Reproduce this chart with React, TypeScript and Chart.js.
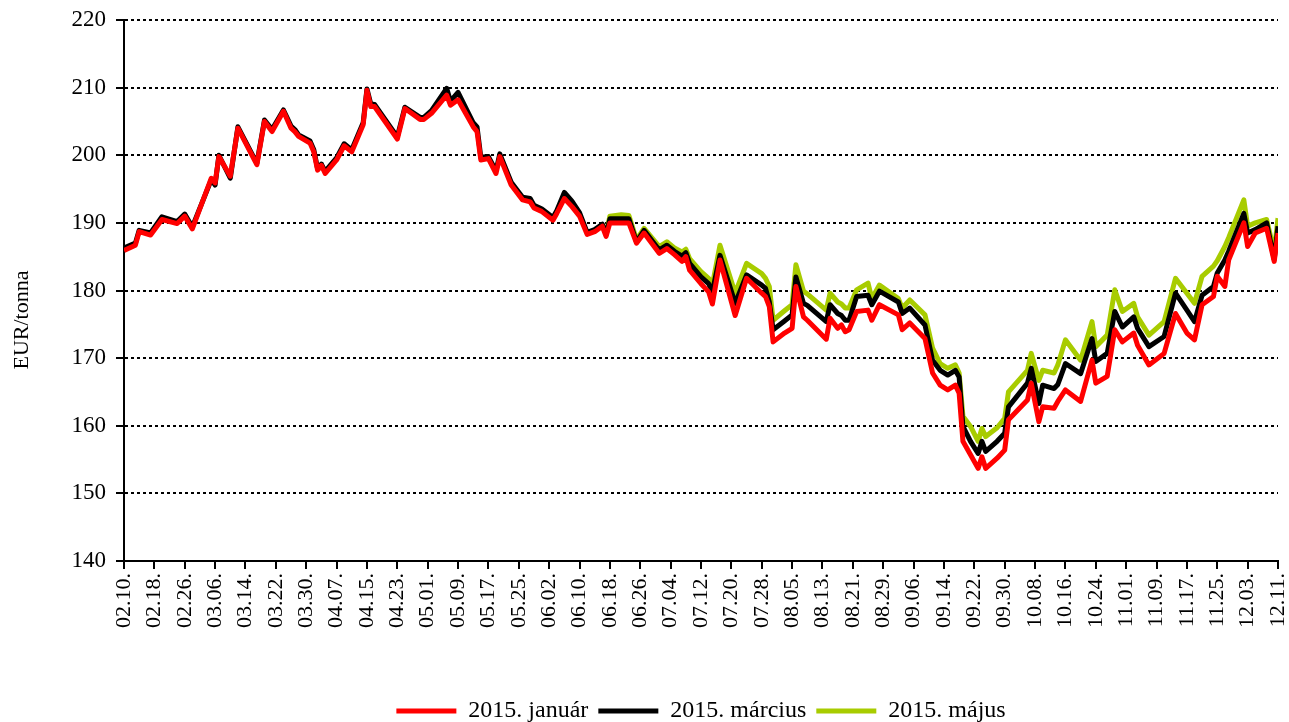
import React, { useEffect, useRef } from 'react';
import { Chart, registerables } from 'chart.js';

Chart.register(...registerables);

// Trading dates (MM.DD) of sampled points, year 2014
const dates = [
  '02.10', '02.13', '02.14', '02.17', '02.20', '02.24', '02.26', '02.28',
  '03.05', '03.06', '03.07', '03.10', '03.12', '03.17', '03.19', '03.21', '03.24', '03.26', '03.27', '03.28', '03.31',
  '04.01', '04.02', '04.03', '04.04', '04.07', '04.09', '04.11', '04.14', '04.15', '04.16', '04.17', '04.23', '04.25', '04.29', '04.30',
  '05.02', '05.06', '05.07', '05.09', '05.13', '05.14', '05.15', '05.17', '05.19', '05.20', '05.23', '05.26', '05.28', '05.29', '05.31',
  '06.03', '06.04', '06.06', '06.08', '06.10', '06.12', '06.14', '06.16', '06.17', '06.18', '06.21', '06.23', '06.25', '06.27',
  '07.01', '07.03', '07.05', '07.07', '07.08', '07.09', '07.12', '07.14', '07.15', '07.17', '07.21', '07.24', '07.28', '07.29', '07.30', '07.31',
  '08.03', '08.05', '08.06', '08.08', '08.09', '08.14', '08.15', '08.17', '08.18', '08.19', '08.20', '08.22', '08.25', '08.26', '08.28',
  '09.02', '09.03', '09.05', '09.09', '09.11', '09.13', '09.15', '09.17', '09.18', '09.19', '09.21', '09.23', '09.24', '09.25', '09.28', '09.30',
  '10.01', '10.06', '10.07', '10.09', '10.10', '10.13', '10.14', '10.16', '10.20', '10.23', '10.24', '10.27', '10.29', '10.31',
  '11.03', '11.04', '11.07', '11.11', '11.14', '11.17', '11.19', '11.21', '11.24', '11.25', '11.27', '11.28',
  '12.02', '12.03', '12.05', '12.08', '12.10', '12.11',
];

const januar = [
  185.9, 186.7, 188.7, 188.2, 190.5, 189.9, 191.0, 189.1,
  196.6, 195.9, 199.8, 196.9, 204.0, 198.6, 205.0, 203.5, 206.5, 204.0, 203.5, 202.8, 201.8,
  200.5, 197.8, 198.5, 197.3, 199.3, 201.4, 200.5, 204.5, 209.6, 207.2, 207.2, 202.4, 206.9, 205.3, 205.3,
  206.2, 208.9, 207.4, 208.2, 204.2, 203.5, 199.3, 199.5, 197.3, 199.8, 195.6, 193.4, 193.1, 192.2, 191.7,
  190.4, 191.4, 193.6, 192.4, 191.0, 188.3, 188.7, 189.5, 188.0, 190.0, 190.0, 190.0, 187.0, 188.5,
  185.5, 186.2, 185.3, 184.3, 185.0, 183.0, 181.0, 179.8, 178.0, 184.5, 176.3, 181.8, 179.6, 179.1, 177.6, 172.4,
  173.7, 174.4, 180.6, 176.1, 175.6, 172.8, 175.9, 174.4, 174.9, 173.9, 174.2, 176.9, 177.1, 175.6, 177.9,
  176.4, 174.2, 175.2, 172.9, 167.8, 166.0, 165.3, 166.0, 164.8, 157.7, 155.7, 153.7, 155.4, 153.7, 155.2, 156.4,
  160.9, 163.8, 166.3, 160.6, 162.8, 162.6, 163.6, 165.3, 163.6, 169.7, 166.3, 167.3, 174.2, 172.4,
  173.7, 171.9, 169.0, 170.7, 176.6, 173.7, 172.7, 177.9, 179.1, 182.1, 180.6, 184.5,
  190.0, 186.5, 188.5, 189.2, 184.3, 188.5,
];

const marcius = [
  186.3, 187.0, 188.9, 188.5, 190.9, 190.2, 191.3, 189.4,
  196.4, 195.6, 200.0, 196.6, 204.2, 198.8, 205.2, 203.8, 206.7, 204.3, 203.8, 203.0, 202.1,
  200.8, 198.0, 198.7, 197.6, 199.6, 201.7, 200.8, 204.8, 209.8, 207.6, 207.5, 202.7, 207.1, 205.6, 205.6,
  206.6, 209.9, 208.0, 209.3, 204.8, 204.2, 199.7, 199.8, 197.7, 200.2, 196.0, 193.8, 193.6, 192.6, 192.1,
  190.8, 191.8, 194.5, 193.2, 191.5, 188.6, 189.0, 189.8, 188.3, 190.6, 190.6, 190.6, 187.2, 188.9,
  186.0, 186.7, 185.8, 185.1, 185.6, 184.0, 182.0, 181.0, 179.8, 185.2, 178.1, 182.3, 180.8, 180.3, 178.3, 174.2,
  175.5, 176.4, 182.0, 178.1, 177.8, 175.4, 177.9, 176.6, 176.3, 175.6, 175.6, 179.1, 179.3, 177.9, 179.9,
  178.3, 176.6, 177.4, 174.9, 169.7, 168.2, 167.5, 168.2, 167.2, 159.9, 157.7, 155.9, 157.7, 156.2, 157.7, 158.9,
  162.8, 166.3, 168.5, 163.3, 166.0, 165.5, 166.1, 169.2, 167.7, 172.9, 169.5, 170.7, 176.9, 174.6,
  176.1, 174.4, 171.7, 173.2, 179.6, 177.1, 175.4, 179.3, 180.6, 182.6, 184.5, 185.8,
  191.4, 188.5, 189.0, 190.0, 184.6, 189.5,
];

const majus = [
  null, null, null, null, null, null, null, null,
  null, null, null, null, null, null, null, null, null, null, null, null, null,
  null, null, null, null, null, null, null, null, null, null, null, null, null, null, null,
  null, null, null, null, null, null, null, null, null, null, null, null, null, null, null,
  null, null, null, null, null, null, null, null, 188.4, 191.0, 191.2, 191.1, 187.5, 189.2,
  186.5, 187.2, 186.3, 185.7, 186.1, 184.7, 182.8, 181.8, 180.8, 186.7, 179.6, 184.0, 182.5, 181.8, 180.6, 175.6,
  177.0, 177.9, 183.8, 179.9, 179.5, 177.1, 179.6, 178.3, 178.0, 177.4, 177.4, 180.1, 181.1, 178.8, 180.8,
  178.8, 177.4, 178.6, 176.4, 171.5, 169.2, 168.5, 169.0, 167.8, 161.4, 159.9, 157.7, 159.6, 158.4, 159.7, 161.1,
  165.0, 168.2, 170.7, 166.7, 168.2, 167.8, 169.0, 172.7, 169.7, 175.4, 171.7, 173.4, 180.1, 176.9,
  178.1, 176.1, 173.4, 175.4, 181.8, 179.6, 178.1, 182.1, 183.6, 184.4, 186.5, 187.8,
  193.4, 189.5, 190.0, 190.5, 185.7, 190.7,
];

const tickLabels = [
  '02.10.', '02.18.', '02.26.', '03.06.', '03.14.', '03.22.', '03.30.', '04.07.', '04.15.', '04.23.',
  '05.01.', '05.09.', '05.17.', '05.25.', '06.02.', '06.10.', '06.18.', '06.26.', '07.04.', '07.12.',
  '07.20.', '07.28.', '08.05.', '08.13.', '08.21.', '08.29.', '09.06.', '09.14.', '09.22.', '09.30.',
  '10.08.', '10.16.', '10.24.', '11.01.', '11.09.', '11.17.', '11.25.', '12.03.', '12.11.',
];

const seriesNames = ['2015. január', '2015. március', '2015. május'];
const seriesColors = ['#ff0000', '#000000', '#a8cc00'];
const yAxisTitle = 'EUR/tonna';

const YEAR = 2014;
const START = '02.10';
const TICK_STEP_DAYS = 8;

function dayIndex(s: string): number {
  const [m, d] = s.split('.').map(Number);
  const [m0, d0] = START.split('.').map(Number);
  return Math.round((Date.UTC(YEAR, m - 1, d) - Date.UTC(YEAR, m0 - 1, d0)) / 86400000);
}

const FONT = "'Liberation Serif', 'Times New Roman', serif";

export default function App() {
  const ref = useRef<HTMLCanvasElement>(null);

  useEffect(() => {
    if (!ref.current) return;
    const toPts = (vals: (number | null)[]) =>
      dates.map((d, i) => ({ x: dayIndex(d), y: vals[i] }));
    const lastDay = (tickLabels.length - 1) * TICK_STEP_DAYS;

    const yTitlePlugin = {
      id: 'yTitlePlugin',
      afterDraw(chart: any) {
        const ctx = chart.ctx;
        ctx.save();
        ctx.translate(22, 320);
        ctx.rotate(-Math.PI / 2);
        ctx.font = `22px ${FONT}`;
        ctx.fillStyle = '#000';
        ctx.textAlign = 'center';
        ctx.textBaseline = 'middle';
        ctx.fillText(yAxisTitle, 0, 0);
        ctx.restore();
      },
    };

    const series = [januar, marcius, majus];
    const chart = new Chart(ref.current, {
      type: 'line',
      data: {
        datasets: series.map((vals, i) => ({
          label: seriesNames[i],
          data: toPts(vals),
          borderColor: seriesColors[i],
          backgroundColor: seriesColors[i],
          borderWidth: 5,
          pointRadius: 0,
          pointHoverRadius: 0,
          tension: 0,
          borderJoinStyle: 'round',
          spanGaps: false,
        })),
      },
      options: {
        animation: false,
        responsive: false,
        layout: { padding: { top: 20, right: 11, left: 0, bottom: -11 } },
        plugins: {
          legend: {
            position: 'bottom',
            fullSize: false,
            labels: {
              boxWidth: 60,
              boxHeight: 5,
              padding: 10,
              color: '#000',
              font: { family: FONT, size: 24 },
              generateLabels: (c: any) =>
                (Chart.defaults.plugins.legend.labels.generateLabels as any)(c).map((l: any) => ({
                  ...l,
                  lineWidth: 0,
                })),
            },
          },
          tooltip: { enabled: false },
        },
        scales: {
          x: {
            type: 'linear',
            min: 0,
            max: lastDay,
            afterBuildTicks: (s: any) => {
              s.ticks = tickLabels.map((_, i) => ({ value: i * TICK_STEP_DAYS }));
            },
            afterFit: (s: any) => {
              s.height = 128;
              s.paddingLeft = 0;
              s.paddingRight = 0;
            },
            ticks: {
              autoSkip: false,
              minRotation: 90,
              maxRotation: 90,
              padding: 4,
              color: '#000',
              font: { family: FONT, size: 22 },
              callback: (v: any) => tickLabels[Math.round(Number(v) / TICK_STEP_DAYS)],
            },
            grid: {
              drawOnChartArea: false,
              drawTicks: true,
              tickLength: 8,
              color: '#000',
              lineWidth: 2,
            },
            border: { display: true, color: '#000', width: 2 },
          },
          y: {
            min: 140,
            max: 220,
            afterFit: (s: any) => {
              s.width = 124;
              s.paddingTop = 0;
              s.paddingBottom = 0;
            },
            ticks: {
              stepSize: 10,
              padding: 10,
              color: '#000',
              font: { family: FONT, size: 23 },
            },
            grid: {
              color: '#000',
              lineWidth: 2,
              tickLength: 8,
              tickColor: '#000',
              tickBorderDash: [],
            },
            border: { display: true, color: '#000', width: 2, dash: [3, 3] },
          },
        },
      },
      plugins: [yTitlePlugin],
    } as any);

    return () => chart.destroy();
  }, []);

  return (
    <div style={{ position: 'fixed', left: 0, top: 0, width: 1289, height: 722, background: '#fff' }}>
      <canvas ref={ref} width={1289} height={722} style={{ display: 'block' }} />
    </div>
  );
}
